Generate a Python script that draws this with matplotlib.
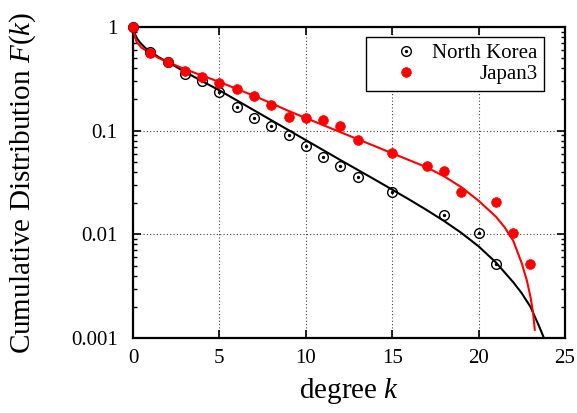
import matplotlib
matplotlib.use("Agg")
import matplotlib.pyplot as plt
from matplotlib.ticker import FixedLocator, LogLocator, NullFormatter, NullLocator

plt.rcParams['font.family'] = ['Liberation Serif', 'DejaVu Serif']
plt.rcParams['mathtext.fontset'] = 'custom'
plt.rcParams['mathtext.it'] = 'Liberation Serif:italic'
plt.rcParams['mathtext.rm'] = 'Liberation Serif'

# ---- data ----
nk_k = [0, 1, 2, 3, 4, 5, 6, 7, 8, 9, 10, 11, 12, 13, 15, 18, 20, 21]
nk_F = [1.0, 0.574, 0.46, 0.352, 0.303, 0.234, 0.168, 0.132, 0.111, 0.091,
        0.071, 0.056, 0.046, 0.0356, 0.0255, 0.0154, 0.0102, 0.00515]

jp_k = [0, 1, 2, 3, 4, 5, 6, 7, 8, 9, 10, 11, 12, 13, 15, 17, 18, 19, 21, 22, 23]
jp_F = [1.0, 0.557, 0.457, 0.374, 0.327, 0.286, 0.252, 0.218, 0.177, 0.136,
        0.132, 0.128, 0.112, 0.081, 0.0614, 0.046, 0.0409, 0.0256, 0.0207,
        0.0102, 0.00515]

nk_fit_k = [0, 0.1, 0.2, 0.4, 0.7, 1, 1.5, 2, 3, 4, 5, 6, 7, 8, 9, 10, 11, 12,
            13, 14, 15, 16, 17, 18, 19, 20, 21, 22, 22.5, 23, 23.5, 23.75, 24]
nk_fit_F = [1.0, 0.87, 0.79, 0.71, 0.63, 0.58, 0.51, 0.46, 0.37, 0.30, 0.245,
            0.1963, 0.1574, 0.1262, 0.1012, 0.0811, 0.065, 0.0521, 0.0419,
            0.0337, 0.027, 0.0216, 0.01714, 0.01346, 0.01033, 0.00766,
            0.00536, 0.00346, 0.0027, 0.002, 0.0013, 0.00103, 0.0007]

jp_fit_k = [0, 0.1, 0.2, 0.5, 1, 1.5, 2, 3, 4, 5, 6, 7, 8, 9, 10, 11, 12, 13,
            14, 15, 16, 17, 18, 19, 20, 21, 21.5, 22, 22.5, 22.8, 23, 23.15,
            23.25]
jp_fit_F = [1.0, 0.83, 0.72, 0.63, 0.56, 0.50, 0.46, 0.392, 0.34, 0.295,
            0.253, 0.217, 0.184, 0.155, 0.1324, 0.1132, 0.0968, 0.0828,
            0.0708, 0.0605, 0.0518, 0.0443, 0.0363, 0.0285, 0.0211, 0.0148,
            0.01175, 0.0087, 0.00525, 0.00355, 0.0025, 0.00178, 0.0012]

x_ticks = [0, 5, 10, 15, 20, 25]
y_ticks = [0.001, 0.01, 0.1, 1]
y_ticklabels = ['0.001', '0.01', '0.1', '1']

# ---- figure ----
fig = plt.figure(figsize=(5.77, 4.13), dpi=100)
ax = fig.add_axes([0.2305, 0.1816, 0.7487, 0.7530])
ax.set_yscale('log')
ax.set_xlim(0, 25)
ax.set_ylim(0.001, 1)

ax.plot(nk_fit_k, nk_fit_F, color='black', lw=1.5, zorder=3)
ax.plot(jp_fit_k, jp_fit_F, color='red', lw=1.5, zorder=3)

h_nk, = ax.plot(nk_k, nk_F, linestyle='none', marker='o', ms=7, mfc='none',
                mec='black', mew=1.0, clip_on=False, zorder=4)
h_nkd, = ax.plot(nk_k, nk_F, linestyle='none', marker='o', ms=1.4,
                 mfc='black', mec='black', clip_on=False, zorder=4)
h_jp, = ax.plot(jp_k, jp_F, linestyle='none', marker='o', ms=7, mfc='red',
                mec='red', mew=0.5, clip_on=False, zorder=4)

ax.xaxis.set_major_locator(FixedLocator(x_ticks))
ax.xaxis.set_minor_locator(NullLocator())
ax.set_xticklabels([str(t) for t in x_ticks])
ax.yaxis.set_major_locator(FixedLocator(y_ticks))
ax.set_yticklabels(y_ticklabels)
ax.yaxis.set_minor_locator(LogLocator(base=10, subs=range(2, 10)))
ax.yaxis.set_minor_formatter(NullFormatter())

ax.tick_params(which='both', direction='in', top=True, right=True,
               labelsize=15, width=1.2)
ax.tick_params(axis='y', which='major', pad=11)
ax.tick_params(axis='x', which='major', pad=8)
ax.tick_params(which='major', length=6)
ax.tick_params(which='minor', length=3, width=1.0)
for s in ax.spines.values():
    s.set_linewidth(1.6)

ax.grid(True, which='major', linestyle=(0, (1, 2)), color='0.25', lw=0.8)

ax.set_xlabel('degree $k$', fontsize=21, labelpad=6)
ax.set_ylabel('Cumulative Distribution $F(k)$', fontsize=21, labelpad=24)

leg = ax.legend([(h_nk, h_nkd), h_jp], ['North Korea', 'Japan3'],
                loc='upper right', bbox_to_anchor=(0.951, 0.968),
                fontsize=15, frameon=True, fancybox=False, edgecolor='black',
                framealpha=1, borderpad=0.3, labelspacing=0.1,
                handlelength=3.25, handletextpad=-0.38, borderaxespad=0)
leg.get_frame().set_linewidth(1.0)
fig.canvas.draw()
renderer = fig.canvas.get_renderer()
widths = [t.get_window_extent(renderer).width for t in leg.get_texts()]
wmax = max(widths)
for t, w in zip(leg.get_texts(), widths):
    t.set_position((wmax - w, 0))

fig.savefig('out.png', dpi=100)
